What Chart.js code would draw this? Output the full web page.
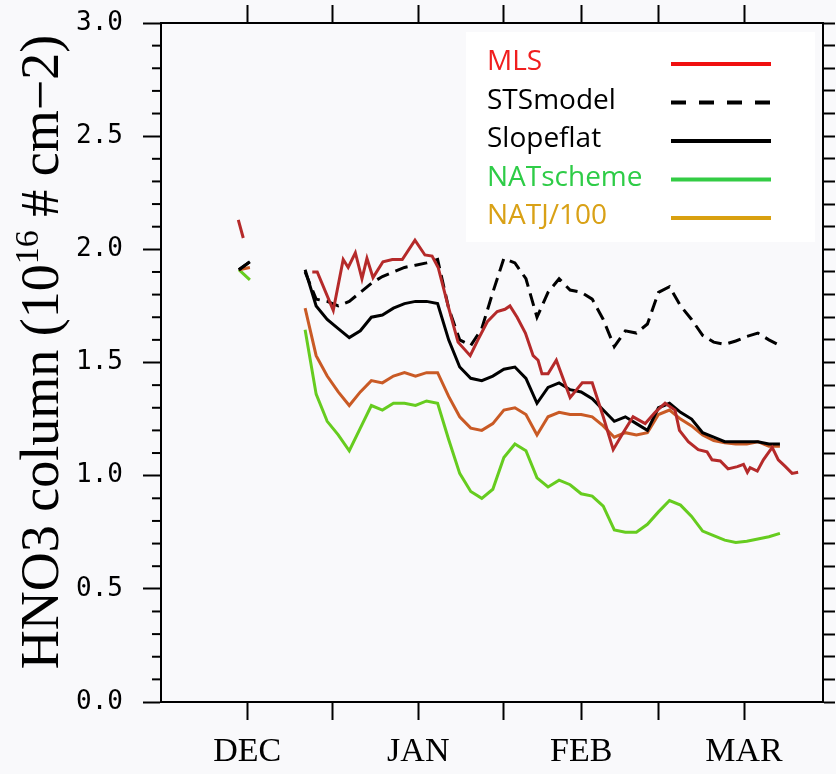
<!DOCTYPE html>
<html>
<head>
<meta charset="utf-8">
<script src="https://cdn.jsdelivr.net/npm/chart.js@4.4.1/dist/chart.umd.min.js"></script>
<style>
  html, body { margin: 0; padding: 0; background: #f9f9fb; }
  canvas { display: block; }
</style>
</head>
<body>
<canvas id="hno3Chart" width="836" height="774"></canvas>
<script>
// x = days since 1 Dec
const tickDays = [0, 15.5, 31, 46.5, 60.5, 74.5, 90];
const tickLabels = ['DEC', '', 'JAN', '', 'FEB', '', 'MAR'];

const modelDays = [-1.5, 0.5, 2.5,
  10.5, 12.5, 14.5, 16.5, 18.5, 20.5, 22.5, 24.5, 26.5, 28.5,
  30.5, 32.5, 34.5, 36.5, 38.5, 40.5, 42.5, 44.5, 46.5, 48.5,
  50.5, 52.5, 54.5, 56.5, 58.5, 60.5, 62.5, 64.5, 66.5, 68.5,
  70.5, 72.5, 74.5, 76.5, 78.5, 80.5, 82.5, 84.5, 86.5, 88.5,
  90.5, 92.5, 94.5, 96.5];

const stsModel = [1.91, 1.945, null,
  1.90, 1.78, 1.77, 1.75, 1.77, 1.81, 1.85, 1.88, 1.90, 1.92,
  1.93, 1.94, 1.955, 1.74, 1.60, 1.575, 1.65, 1.81, 1.96, 1.94,
  1.87, 1.70, 1.81, 1.87, 1.82, 1.81, 1.78, 1.69, 1.57, 1.64,
  1.63, 1.67, 1.81, 1.835, 1.75, 1.69, 1.62, 1.59, 1.58, 1.595,
  1.615, 1.63, 1.60, 1.575];

const slopeFlat = [1.91, 1.945, null,
  1.91, 1.75, 1.69, 1.65, 1.61, 1.64, 1.70, 1.71, 1.74, 1.76,
  1.77, 1.77, 1.76, 1.60, 1.48, 1.43, 1.42, 1.44, 1.47, 1.48,
  1.43, 1.32, 1.39, 1.41, 1.38, 1.37, 1.34, 1.29, 1.24, 1.26,
  1.23, 1.20, 1.30, 1.32, 1.28, 1.25, 1.19, 1.17, 1.15, 1.15,
  1.15, 1.15, 1.14, 1.14];

const natScheme = [1.91, 1.865, null,
  1.645, 1.36, 1.24, 1.18, 1.11, 1.21, 1.31, 1.29, 1.32, 1.32,
  1.31, 1.33, 1.32, 1.16, 1.01, 0.93, 0.90, 0.94, 1.08, 1.14,
  1.11, 0.99, 0.95, 0.98, 0.96, 0.92, 0.91, 0.865, 0.76, 0.75,
  0.75, 0.785, 0.84, 0.89, 0.87, 0.82, 0.755, 0.735, 0.715, 0.705,
  0.71, 0.72, 0.73, 0.745];

const natJ100 = [1.91, 1.92, null,
  1.74, 1.53, 1.44, 1.37, 1.31, 1.37, 1.42, 1.41, 1.44, 1.455,
  1.44, 1.455, 1.455, 1.35, 1.26, 1.21, 1.20, 1.23, 1.29, 1.30,
  1.27, 1.18, 1.26, 1.28, 1.27, 1.27, 1.26, 1.22, 1.17, 1.19,
  1.18, 1.19, 1.27, 1.29, 1.25, 1.22, 1.18, 1.155, 1.145, 1.14,
  1.14, 1.15, 1.13, 1.13];

const mlsDays = [-1.6, -0.7, 5,
  11.8, 12.7, 15.6, 17.4, 18.3, 19.6, 20.8, 21.7, 22.8, 24.6,
  26.3, 28.1, 30.4, 32.2, 33.5, 34.6, 36.4, 38.2, 40.4, 41.8,
  43.5, 45.3, 46.7, 47.6, 48.9, 50.4, 51.8, 52.7, 53.4, 54.5,
  56.0, 58.5, 60.7, 62.5, 64.5, 66.3, 68.1, 69.9, 72.1, 73.9,
  75.7, 77.5, 78.3, 79.9, 81.7, 83.3, 84.2, 85.7, 87.1, 88.8,
  89.9, 90.6, 91.1, 92.4, 93.5, 95.1, 96.2, 97.5, 98.7, 99.8];

const mlsValues = [2.13, 2.05, null,
  1.90, 1.90, 1.73, 1.955, 1.92, 1.985, 1.87, 1.96, 1.875, 1.945,
  1.955, 1.955, 2.04, 1.975, 1.97, 1.92, 1.75, 1.59, 1.53, 1.60,
  1.68, 1.725, 1.735, 1.75, 1.70, 1.63, 1.53, 1.51, 1.45, 1.45,
  1.51, 1.345, 1.41, 1.41, 1.26, 1.115, 1.19, 1.26, 1.23, 1.28,
  1.32, 1.29, 1.20, 1.15, 1.115, 1.105, 1.07, 1.065, 1.03, 1.04,
  1.05, 1.015, 1.035, 1.02, 1.07, 1.125, 1.07, 1.04, 1.01, 1.015];

// legend
const legendNames = ['MLS', 'STSmodel', 'Slopeflat', 'NATscheme', 'NATJ/100'];
const legendTextColors = ['#f01e1e', '#000000', '#000000', '#2ecc47', '#d9a116'];
const legendLineColors = ['#f01010', '#000000', '#000000', '#33cc44', '#d9a010'];
const legendDashes = [[], [15, 13], [], [], []];

const xMin = -15.6, xMax = 104.3;

function pairs(days, vals) {
  return days.map((d, i) => ({ x: d, y: vals[i] }));
}

function sameTicks(scale) {
  scale.ticks = tickDays.map(v => ({ value: v }));
}

// keep the plot frame where the original has it
function fixBox(size) {
  return s => {
    if (s.isHorizontal()) s.height = size; else s.width = size;
    s.paddingTop = 0; s.paddingBottom = 0; s.paddingLeft = 0; s.paddingRight = 0;
  };
}

const decorPlugin = {
  id: 'decor',
  beforeDraw(chart) {
    const ctx = chart.ctx;
    ctx.save();
    ctx.fillStyle = '#f9f9fb';
    ctx.fillRect(0, 0, chart.width, chart.height);
    ctx.restore();
  },
  afterDraw(chart) {
    const ctx = chart.ctx;
    const yScale = chart.scales.y;
    const left = chart.chartArea.left;
    ctx.save();

    // minor ticks on the left axis
    ctx.strokeStyle = '#000';
    ctx.lineWidth = 2;
    for (let i = 1; i < 30; i++) {
      if (i % 5 === 0) continue;
      const py = yScale.getPixelForValue(i / 10);
      ctx.beginPath();
      ctx.moveTo(left - 9, py);
      ctx.lineTo(left, py);
      ctx.stroke();
    }

    // legend box
    ctx.fillStyle = '#ffffff';
    ctx.fillRect(466, 32, 349, 210);
    ctx.font = '28px "Open Sans"';
    ctx.textBaseline = 'alphabetic';
    ctx.textAlign = 'left';
    legendNames.forEach((name, i) => {
      const base = 70 + i * 38.5;
      ctx.fillStyle = legendTextColors[i];
      ctx.fillText(name, 487, base);
      ctx.strokeStyle = legendLineColors[i];
      ctx.lineWidth = 4;
      ctx.setLineDash(legendDashes[i]);
      ctx.beginPath();
      ctx.moveTo(671, base - 6);
      ctx.lineTo(771, base - 6);
      ctx.stroke();
    });
    ctx.setLineDash([]);

    // y axis title with superscript
    const big = '54px "Liberation Serif"';
    const small = '34px "Liberation Serif"';
    const parts = [
      { t: 'HNO3 column (10', f: big, dy: 0 },
      { t: '16', f: small, dy: -20 },
      { t: ' # cm\u22122)', f: big, dy: 0 }
    ];
    let total = 0;
    parts.forEach(p => { ctx.font = p.f; p.w = ctx.measureText(p.t).width; total += p.w; });
    ctx.translate(58, 352);
    ctx.rotate(-Math.PI / 2);
    ctx.fillStyle = '#000';
    let x = -total / 2;
    parts.forEach(p => {
      ctx.font = p.f;
      ctx.fillText(p.t, x, p.dy);
      x += p.w;
    });
    ctx.restore();
  }
};

const lineBase = { pointRadius: 0, borderWidth: 3, tension: 0, spanGaps: false, fill: false };

new Chart(document.getElementById('hno3Chart'), {
  type: 'line',
  data: {
    datasets: [
      Object.assign({ label: 'MLS', data: pairs(mlsDays, mlsValues), borderColor: '#b52a2a' }, lineBase),
      Object.assign({ label: 'Slopeflat', data: pairs(modelDays, slopeFlat), borderColor: '#000000' }, lineBase),
      Object.assign({ label: 'STSmodel', data: pairs(modelDays, stsModel), borderColor: '#000000', borderDash: [13, 7] }, lineBase),
      Object.assign({ label: 'NATJ/100', data: pairs(modelDays, natJ100), borderColor: '#c95a25' }, lineBase),
      Object.assign({ label: 'NATscheme', data: pairs(modelDays, natScheme), borderColor: '#66cc1f' }, lineBase)
    ]
  },
  options: {
    responsive: false,
    animation: false,
    layout: { padding: 0 },
    plugins: { legend: { display: false }, tooltip: { enabled: false } },
    scales: {
      x: {
        type: 'linear', position: 'bottom', min: xMin, max: xMax,
        afterBuildTicks: sameTicks,
        afterFit: fixBox(72),
        ticks: {
          autoSkip: false, maxRotation: 0, padding: 12, color: '#000',
          font: { family: 'Liberation Serif', size: 34 },
          callback: (v, i) => tickLabels[i]
        },
        grid: { drawOnChartArea: false, tickLength: 18, tickWidth: 2, tickColor: '#000' },
        border: { display: true, color: '#000', width: 2 }
      },
      x2: {
        type: 'linear', position: 'top', min: xMin, max: xMax,
        afterBuildTicks: sameTicks,
        afterFit: fixBox(23),
        ticks: { autoSkip: false, maxRotation: 0, callback: () => '' },
        grid: { drawOnChartArea: false, tickLength: 18, tickWidth: 2, tickColor: '#000' },
        border: { display: true, color: '#000', width: 2 }
      },
      y: {
        type: 'linear', position: 'left', min: 0, max: 3,
        afterFit: fixBox(161),
        ticks: {
          stepSize: 0.5, padding: 20, color: '#000',
          font: { family: 'DejaVu Sans Mono', size: 26 },
          callback: v => v.toFixed(1)
        },
        grid: { drawOnChartArea: false, tickLength: 18, tickWidth: 2, tickColor: '#000' },
        border: { display: true, color: '#000', width: 2 }
      },
      y2: {
        type: 'linear', position: 'right', min: 0, max: 3,
        afterFit: fixBox(13),
        ticks: { stepSize: 0.1, callback: () => '' },
        grid: { drawOnChartArea: false, tickLength: 12, tickWidth: 2, tickColor: '#000' },
        border: { display: true, color: '#000', width: 2 }
      }
    }
  },
  plugins: [decorPlugin]
});
</script>
</body>
</html>
